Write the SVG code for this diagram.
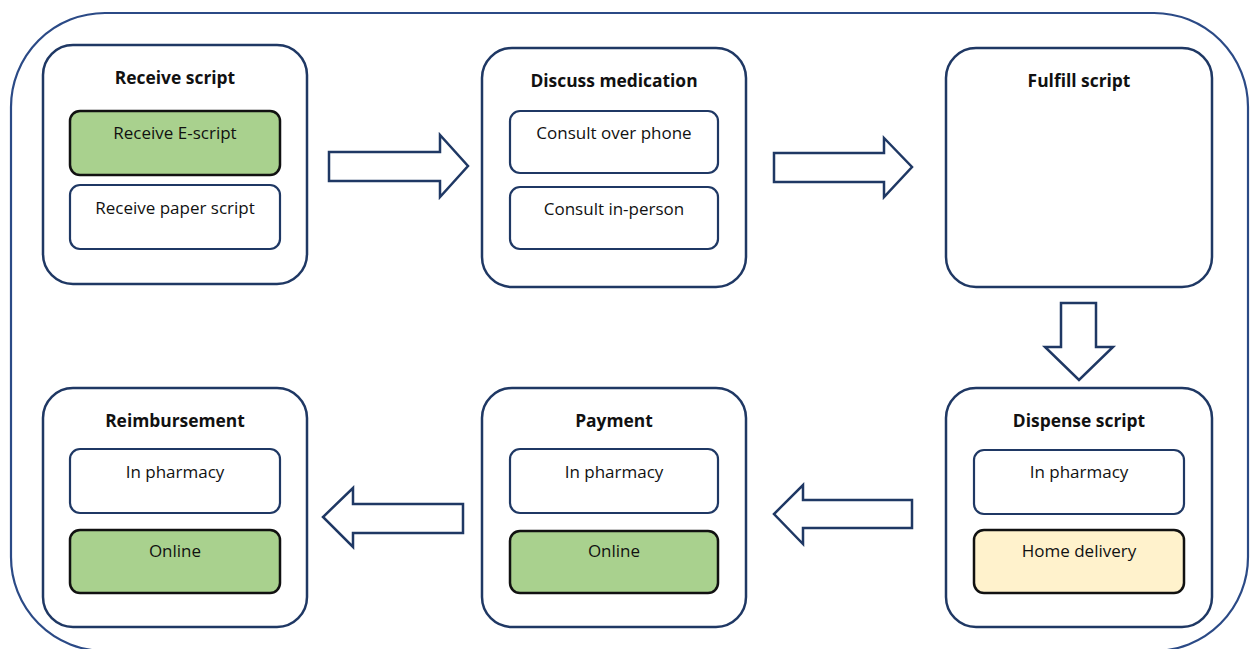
<svg xmlns="http://www.w3.org/2000/svg" width="1250" height="649" viewBox="0 0 1250 649">
<style>
  .frame { fill: none; stroke: #2b4a86; stroke-width: 2.2; }
  .node { fill: #ffffff; stroke: #1f3864; stroke-width: 2.5; }
  .sub { fill: #ffffff; stroke: #1f3864; stroke-width: 2.2; }
  .green { fill: #a9d18e; stroke: #111111; stroke-width: 2.5; }
  .yellow { fill: #fff2cc; stroke: #111111; stroke-width: 2.5; }
  .arrow { fill: #ffffff; stroke: #1f3864; stroke-width: 2.5; stroke-linejoin: miter; }
  .title { font-family: "Open Sans", "Noto Sans", "Liberation Sans", sans-serif; font-weight: bold; font-size: 17.4px; fill: #111111; text-anchor: middle; }
  .label { font-family: "Open Sans", "Noto Sans", "Liberation Sans", sans-serif; font-size: 17px; fill: #111111; text-anchor: middle; }
</style>
<rect width="1250" height="649" fill="#ffffff"/>
<rect class="frame" x="11" y="13" width="1237" height="638" rx="94" ry="94"/>

<g id="connectors">
  <polygon class="arrow" points="329,152 440,152 440,135 468,166 440,197 440,181 329,181"/>
  <polygon class="arrow" points="774,153 884,153 884,138 912,167 884,197 884,182 774,182"/>
  <polygon class="arrow" points="1061,303 1096,303 1096,347 1113,347 1079,380 1045,347 1061,347"/>
  <polygon class="arrow" points="912,500 803,500 803,485 774,514 803,544 803,528 912,528"/>
  <polygon class="arrow" points="463,504 353,504 353,488 323,517 353,547 353,533 463,533"/>
</g>

<g id="receive-script">
  <rect class="node" x="43" y="45" width="264" height="239" rx="30"/>
  <text class="title" x="175" y="84">Receive script</text>
  <rect class="green" x="70" y="111" width="210" height="64" rx="10"/>
  <text class="label" x="175" y="139">Receive E-script</text>
  <rect class="sub" x="70" y="185" width="210" height="64" rx="10"/>
  <text class="label" x="175" y="214">Receive paper script</text>
</g>

<g id="discuss-medication">
  <rect class="node" x="482" y="48" width="264" height="239" rx="30"/>
  <text class="title" x="614" y="87">Discuss medication</text>
  <rect class="sub" x="510" y="111" width="208" height="62" rx="10"/>
  <text class="label" x="614" y="139">Consult over phone</text>
  <rect class="sub" x="510" y="187" width="208" height="62" rx="10"/>
  <text class="label" x="614" y="215">Consult in-person</text>
</g>

<g id="fulfill-script">
  <rect class="node" x="946" y="48" width="266" height="239" rx="30"/>
  <text class="title" x="1079" y="87">Fulfill script</text>
</g>

<g id="dispense-script">
  <rect class="node" x="946" y="388" width="266" height="239" rx="30"/>
  <text class="title" x="1079" y="427">Dispense script</text>
  <rect class="sub" x="974" y="450" width="210" height="64" rx="10"/>
  <text class="label" x="1079" y="478">In pharmacy</text>
  <rect class="yellow" x="974" y="530" width="210" height="63" rx="10"/>
  <text class="label" x="1079" y="557">Home delivery</text>
</g>

<g id="payment">
  <rect class="node" x="482" y="388" width="264" height="239" rx="30"/>
  <text class="title" x="614" y="427">Payment</text>
  <rect class="sub" x="510" y="449" width="208" height="64" rx="10"/>
  <text class="label" x="614" y="478">In pharmacy</text>
  <rect class="green" x="510" y="531" width="208" height="62" rx="10"/>
  <text class="label" x="614" y="557">Online</text>
</g>

<g id="reimbursement">
  <rect class="node" x="43" y="388" width="264" height="239" rx="30"/>
  <text class="title" x="175" y="427">Reimbursement</text>
  <rect class="sub" x="70" y="449" width="210" height="64" rx="10"/>
  <text class="label" x="175" y="478">In pharmacy</text>
  <rect class="green" x="70" y="530" width="210" height="63" rx="10"/>
  <text class="label" x="175" y="557">Online</text>
</g>
</svg>
